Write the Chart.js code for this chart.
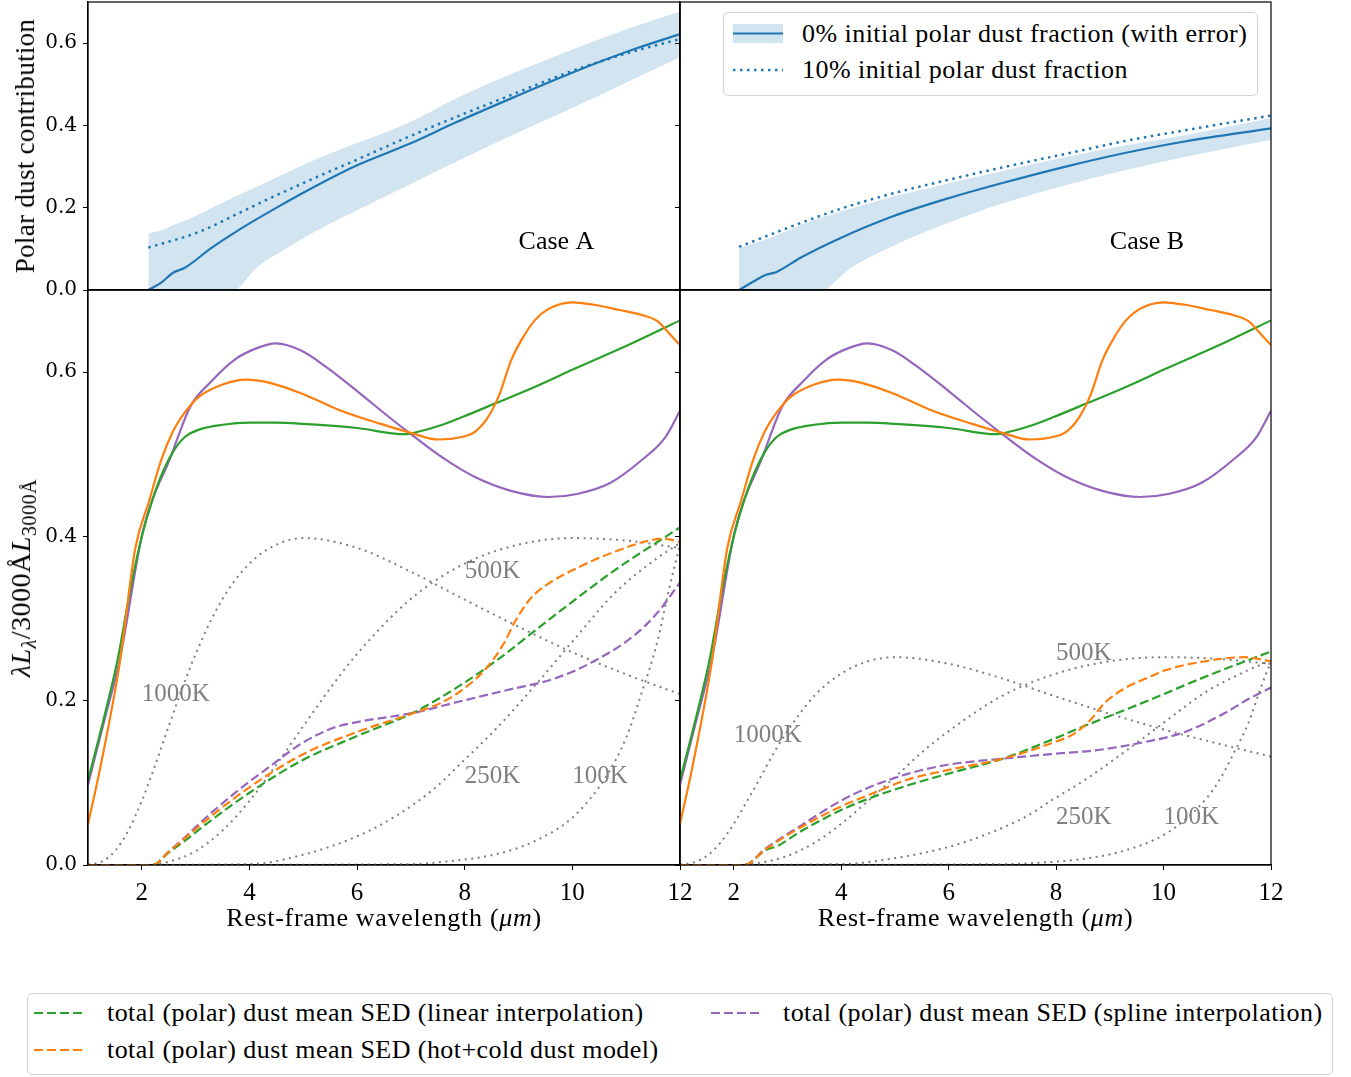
<!DOCTYPE html>
<html>
<head>
<meta charset="utf-8">
<title>Polar dust contribution and mean SEDs</title>
<script src="https://cdn.jsdelivr.net/npm/chart.js"></script>
<style>
  body { margin: 0; background: #fff; }
  #fig { position: relative; width: 1351px; height: 1077px; background: #fff;
         font-family: "Liberation Serif", "DejaVu Serif", serif; color: #000; overflow: hidden; }
  #fig canvas { position: absolute; }
  .xtitle { position: absolute; font-size: 26px; line-height: 30px; letter-spacing: 0.7px; text-align: center; white-space: nowrap; }
  .ytitle { position: absolute; line-height: 32px; white-space: nowrap;
            transform: translate(-50%, -50%) rotate(-90deg); }
  .ytitle sub { font-size: 0.72em; vertical-align: -0.3em; }
  .legend { position: absolute; background: #fff; border: 1px solid #d3d3d3; border-radius: 5px; box-sizing: border-box; }
  .leg-text { position: absolute; font-size: 26px; line-height: 28px; letter-spacing: 0.45px; white-space: nowrap; }
  .leg-sample { position: absolute; }
</style>
</head>
<body>
<div id="fig">
  <canvas id="topA" width="690" height="304" style="left:0px;top:0px"></canvas>
  <canvas id="topB" width="690" height="304" style="left:600px;top:0px"></canvas>
  <canvas id="sedA" width="694" height="660" style="left:0px;top:280px"></canvas>
  <canvas id="sedB" width="685" height="660" style="left:600px;top:280px"></canvas>

  <div class="ytitle" style="left:25px;top:146px;font-size:27px;letter-spacing:0.3px">Polar dust contribution</div>
  <div class="xtitle" style="left:88px;width:592px;top:903px">Rest-frame wavelength (<i>μm</i>)</div>
  <div class="xtitle" style="left:680px;width:591px;top:903px">Rest-frame wavelength (<i>μm</i>)</div>
  <div class="ytitle" style="left:25px;top:578px;font-size:28px;letter-spacing:0.5px"><i>λL</i><sub><i>λ</i></sub>/3000Å<i>L</i><sub>3000Å</sub></div>

  <!-- legend of the top row -->
  <div class="legend" style="left:723px;top:12px;width:535px;height:84px"></div>
  <svg class="leg-sample" style="left:733px;top:24px" width="50" height="19">
    <rect x="0" y="0" width="50" height="19" fill="rgb(210,228,240)"></rect>
    <line x1="0" y1="9.5" x2="50" y2="9.5" stroke="#1f77b4" stroke-width="2.2"></line>
  </svg>
  <div class="leg-text" style="left:802px;top:20px">0% initial polar dust fraction (with error)</div>
  <svg class="leg-sample" style="left:733px;top:65px" width="50" height="10">
    <line x1="0" y1="5" x2="50" y2="5" stroke="#1f77b4" stroke-width="2.5" stroke-dasharray="2.5,4.5"></line>
  </svg>
  <div class="leg-text" style="left:802px;top:56px">10% initial polar dust fraction</div>

  <!-- legend of the bottom row -->
  <div class="legend" style="left:27px;top:993px;width:1306px;height:82px"></div>
  <svg class="leg-sample" style="left:34px;top:1008px" width="48" height="10">
    <line x1="0" y1="5" x2="48" y2="5" stroke="#2ca02c" stroke-width="2.2" stroke-dasharray="9,4"></line>
  </svg>
  <div class="leg-text" style="left:107px;top:999px">total (polar) dust mean SED (linear interpolation)</div>
  <svg class="leg-sample" style="left:34px;top:1045px" width="48" height="10">
    <line x1="0" y1="5" x2="48" y2="5" stroke="#ff7f0e" stroke-width="2.2" stroke-dasharray="9,4"></line>
  </svg>
  <div class="leg-text" style="left:107px;top:1036px">total (polar) dust mean SED (hot+cold dust model)</div>
  <svg class="leg-sample" style="left:711px;top:1008px" width="48" height="10">
    <line x1="0" y1="5" x2="48" y2="5" stroke="#9467bd" stroke-width="2.2" stroke-dasharray="9,4"></line>
  </svg>
  <div class="leg-text" style="left:783px;top:999px">total (polar) dust mean SED (spline interpolation)</div>
</div>

<script>
// tick values
const xTicks = [2, 4, 6, 8, 10, 12];
const yTicks = [0, 0.2, 0.4, 0.6];

// ---- top row: polar dust contribution ----
// case A
const topAx = [2.12, 2.36, 2.58, 2.8, 3.28, 3.79, 4.53, 5.26, 6.0, 6.95, 7.83, 8.94, 10.03, 11.14, 12];
const topA0 = [0.0, 0.018, 0.042, 0.054, 0.101, 0.145, 0.202, 0.2545, 0.303, 0.354, 0.407, 0.470, 0.530, 0.585, 0.622];
const topA10x = [2.12, 3.06, 3.79, 4.53, 5.26, 6.0, 6.95, 7.83, 8.94, 10.03, 11.14, 12];
const topA10 = [0.103, 0.141, 0.186, 0.232, 0.275, 0.317, 0.372, 0.420, 0.478, 0.534, 0.580, 0.610];
const bandAx = [2.12, 2.36, 2.62, 2.84, 3.28, 3.79, 4.16, 4.53, 5.26, 6.0, 6.95, 7.83, 8.94, 10.03, 11.14, 12];
const bandAhi = [0.137, 0.145, 0.160, 0.170, 0.198, 0.230, 0.252, 0.275, 0.319, 0.357, 0.406, 0.465, 0.529, 0.586, 0.640, 0.677];
const bandAlo = [-0.2, -0.16, -0.12, -0.09, -0.045, 0.004, 0.057, 0.089, 0.145, 0.194, 0.2545, 0.311, 0.380, 0.444, 0.513, 0.566];
// case B
const topBx = [2.1, 2.36, 2.58, 2.8, 3.25, 3.98, 4.94, 5.97, 7.0, 8.18, 9.28, 10.39, 12];
const topB0 = [0.0, 0.020, 0.036, 0.044, 0.079, 0.126, 0.178, 0.222, 0.260, 0.300, 0.333, 0.361, 0.393];
const topB10x = [2.1, 3.25, 3.98, 4.94, 5.97, 7.0, 8.18, 9.28, 10.39, 12];
const topB10 = [0.105, 0.163, 0.197, 0.234, 0.267, 0.298, 0.331, 0.362, 0.388, 0.424];
const bandBx = [2.1, 2.8, 3.25, 3.72, 4.13, 4.94, 5.97, 7.0, 8.18, 9.28, 10.39, 12];
const bandBhi = [0.102, 0.133, 0.158, 0.180, 0.196, 0.226, 0.258, 0.289, 0.323, 0.351, 0.376, 0.418];
const bandBlo = [-0.17, -0.09, -0.045, 0.0, 0.0485, 0.105, 0.162, 0.210, 0.2545, 0.291, 0.323, 0.365];

// ---- bottom row: total SEDs (same in both cases) ----
const linX = [1.0, 1.3, 1.55, 1.8, 2.0, 2.2, 2.4, 2.6, 2.8, 3.06, 3.5, 4.0, 4.5, 5.0, 6.0, 6.88, 7.17, 7.54, 7.98, 8.57, 9.3, 10.04, 11.14, 12];
const linY = [0.103, 0.18, 0.25, 0.34, 0.40, 0.445, 0.48, 0.505, 0.521, 0.530, 0.536, 0.5385, 0.5385, 0.537, 0.532, 0.5245, 0.528, 0.535, 0.546, 0.562, 0.582, 0.604, 0.636, 0.663];
const splX = [1.0, 1.3, 1.59, 2.03, 2.54, 2.9, 3.28, 3.72, 4.09, 4.49, 4.97, 5.41, 6.0, 6.58, 7.03, 7.61, 8.2, 8.86, 9.56, 10.11, 10.7, 11.29, 11.73, 12];
const splY = [0.098, 0.175, 0.25, 0.409, 0.4975, 0.558, 0.588, 0.615, 0.628, 0.635, 0.626, 0.607, 0.577, 0.546, 0.523, 0.495, 0.472, 0.4555, 0.448, 0.452, 0.465, 0.493, 0.521, 0.553];
const hcX = [1.0, 1.22, 1.59, 1.88, 2.14, 2.36, 2.58, 2.8, 3.06, 3.5, 3.94, 4.38, 4.97, 5.7, 6.44, 7.03, 7.5, 7.94, 8.2, 8.42, 8.64, 8.86, 9.08, 9.3, 9.56, 10.0, 10.4, 10.85, 11.32, 11.58, 11.8, 12];
const hcY = [0.050, 0.116, 0.246, 0.386, 0.444, 0.493, 0.528, 0.551, 0.570, 0.585, 0.591, 0.587, 0.574, 0.553, 0.537, 0.5255, 0.518, 0.521, 0.528, 0.544, 0.572, 0.614, 0.642, 0.663, 0.677, 0.685, 0.682, 0.676, 0.669, 0.662, 0.647, 0.633];

// polar dust SEDs, case A
const polLinAx = [1, 2.2, 2.5, 2.77, 3.3, 4.0, 4.97, 6.0, 7.03, 7.9, 8.57, 9.67, 10.77, 12];
const polLinA = [0, 0, 0.015, 0.028, 0.055, 0.088, 0.127, 0.157, 0.185, 0.218, 0.248, 0.304, 0.358, 0.411];
const polHcAx = [1, 2.2, 2.5, 2.77, 3.3, 4.0, 4.97, 6.0, 7.03, 7.61, 8.05, 8.42, 8.72, 8.94, 9.23, 9.52, 10.04, 10.77, 11.5, 11.73, 12];
const polHcA = [0, 0, 0.016, 0.031, 0.060, 0.0946, 0.134, 0.162, 0.1845, 0.199, 0.218, 0.241, 0.269, 0.297, 0.325, 0.341, 0.360, 0.381, 0.396, 0.397, 0.393];
const polSplAx = [1, 2.2, 2.5, 2.77, 3.3, 4.0, 4.38, 4.97, 5.56, 6.0, 7.03, 7.9, 8.79, 9.67, 10.4, 11.14, 11.58, 12];
const polSplA = [0, 0, 0.016, 0.032, 0.064, 0.1016, 0.120, 0.148, 0.167, 0.174, 0.185, 0.199, 0.213, 0.227, 0.248, 0.279, 0.307, 0.344];
// polar dust SEDs, case B
const polLinBx = [1, 2.2, 2.59, 2.81, 3.25, 3.99, 4.5, 5.24, 5.98, 7.01, 7.9, 8.56, 9.67, 10.77, 12];
const polLinB = [0, 0, 0.018, 0.023, 0.041, 0.0666, 0.0806, 0.097, 0.111, 0.1295, 0.152, 0.170, 0.199, 0.229, 0.260];
const polHcBx = [1, 2.2, 2.59, 3.25, 3.99, 4.5, 5.24, 5.98, 7.01, 7.9, 8.34, 8.63, 8.93, 9.3, 9.67, 10.03, 10.77, 11.51, 12];
const polHcB = [0, 0, 0.019, 0.046, 0.071, 0.085, 0.104, 0.1155, 0.1295, 0.148, 0.160, 0.176, 0.199, 0.216, 0.227, 0.237, 0.248, 0.253, 0.248];
const polSplBx = [1, 2.2, 2.59, 3.25, 3.99, 4.5, 5.24, 5.98, 7.01, 7.9, 8.78, 9.67, 10.4, 11.14, 11.58, 12];
const polSplB = [0, 0, 0.020, 0.048, 0.078, 0.094, 0.111, 0.122, 0.1295, 0.135, 0.140, 0.150, 0.162, 0.185, 0.202, 0.216];

// blackbody templates, case A
const bb1000x = [1, 1.25, 1.5, 1.75, 2, 2.25, 2.5, 2.75, 3, 3.5, 4, 4.5, 5, 6, 7, 8, 9, 10, 11, 12];
const bb1000A = [0.001, 0.004, 0.017, 0.042, 0.078, 0.122, 0.169, 0.215, 0.257, 0.324, 0.367, 0.390, 0.398, 0.386, 0.357, 0.323, 0.290, 0.259, 0.232, 0.208];
const bb500x = [1, 2, 2.5, 3, 3.5, 4, 4.5, 5, 5.5, 6, 7, 8, 9, 10, 11, 12];
const bb500A = [0, 0, 0.004, 0.017, 0.042, 0.078, 0.122, 0.169, 0.215, 0.257, 0.324, 0.367, 0.390, 0.398, 0.395, 0.386];
const bb250x = [1, 4.0, 4.97, 6.0, 6.73, 7.47, 7.9, 8.57, 9.3, 10.04, 10.77, 11.5, 12];
const bb250A = [0, 0.001, 0.012, 0.035, 0.060, 0.095, 0.122, 0.165, 0.218, 0.275, 0.330, 0.370, 0.392];
const bb100x = [1, 7.0, 7.47, 8.57, 9.3, 10.04, 10.63, 11.0, 11.29, 11.58, 11.8, 12];
const bb100A = [0, 0.001, 0.003, 0.013, 0.029, 0.060, 0.108, 0.155, 0.210, 0.272, 0.337, 0.390];
// blackbody templates, case B
const bb1000B = [0.001, 0.003, 0.011, 0.027, 0.050, 0.078, 0.107, 0.137, 0.163, 0.206, 0.233, 0.248, 0.253, 0.245, 0.227, 0.205, 0.184, 0.165, 0.148, 0.132];
const bb500B = [0, 0, 0.003, 0.011, 0.027, 0.050, 0.078, 0.107, 0.137, 0.163, 0.206, 0.233, 0.248, 0.253, 0.251, 0.245];
const bb250B = [0, 0.001, 0.008, 0.022, 0.038, 0.060, 0.078, 0.105, 0.139, 0.175, 0.210, 0.235, 0.249];
const bb100B = [0, 0.001, 0.002, 0.008, 0.018, 0.038, 0.069, 0.099, 0.134, 0.173, 0.214, 0.248];

// text labels inside the panels (x, y in data units, baseline left)
const bbNames = ['1000K', '500K', '250K', '100K'];
const bbLabelXA = [2, 8, 8, 10];
const bbLabelYA = [0.2, 0.35, 0.1, 0.1];
const bbLabelXB = [2, 8, 8, 10];
const bbLabelYB = [0.15, 0.25, 0.05, 0.05];

const BLUE = '#1f77b4', ORANGE = '#ff7f0e', GREEN = '#2ca02c', PURPLE = '#9467bd', GREY = '#7f7f7f';
const DASH = [9, 4], DOT = [2, 4.5];

function pts(xs, ys) {
    return xs.map((x, i) => ({ x: x, y: ys[i] }));
}

function line(xs, ys, color, dash, width) {
    return {
        data: pts(xs, ys),
        borderColor: color,
        borderWidth: width || 2.2,
        borderDash: dash || [],
        pointRadius: 0,
        fill: false,
        cubicInterpolationMode: 'monotone'
    };
}

// upper edge fills down to the next dataset (lower edge)
function band(xs, lo, hi) {
    return [
        { data: pts(xs, hi), borderWidth: 0, borderColor: 'rgba(0,0,0,0)', backgroundColor: 'rgba(31,119,180,0.2)',
          pointRadius: 0, fill: '+1', cubicInterpolationMode: 'monotone' },
        { data: pts(xs, lo), borderWidth: 0, borderColor: 'rgba(0,0,0,0)', pointRadius: 0, fill: false,
          cubicInterpolationMode: 'monotone' }
    ];
}

// draws the full box around the plot area
const framePlugin = {
    id: 'frame',
    afterDatasetsDraw(chart) {
        const a = chart.chartArea, ctx = chart.ctx;
        ctx.save();
        ctx.strokeStyle = '#000';
        ctx.lineWidth = 1.2;
        ctx.strokeRect(a.left, a.top, a.right - a.left, a.bottom - a.top);
        ctx.restore();
    }
};

// text annotations placed through the scales
const textPlugin = {
    id: 'panelText',
    afterDatasetsDraw(chart, args, opts) {
        const ctx = chart.ctx, xs = chart.scales.x, ys = chart.scales.y;
        ctx.save();
        (opts.items || []).forEach(it => {
            ctx.font = it.font;
            ctx.fillStyle = it.color;
            ctx.textAlign = 'left';
            ctx.textBaseline = 'alphabetic';
            ctx.fillText(it.text, xs.getPixelForValue(it.x), ys.getPixelForValue(it.y));
        });
        ctx.restore();
    }
};

// axis boxes get a fixed size and no extra label padding,
// so the plot areas land exactly where the layout wants them
function noPad(s) {
    s.paddingLeft = 0; s.paddingRight = 0; s.paddingTop = 0; s.paddingBottom = 0;
}

function scales(o) {
    return {
        x: {
            type: 'linear', min: 1, max: 12,
            afterBuildTicks: s => { s.ticks = xTicks.map(v => ({ value: v })); },
            afterFit: s => { s.height = o.xh; noPad(s); },
            ticks: { display: o.xlabels, font: { family: 'Liberation Serif', size: 25 }, color: '#000',
                     padding: 8, maxRotation: 0, autoSkip: false },
            grid: { drawOnChartArea: false, drawTicks: o.xlabels, tickLength: 5, color: '#000', lineWidth: 1 },
            border: { display: true, color: '#000', width: 1.2 }
        },
        y: {
            type: 'linear', min: 0, max: 0.7,
            afterBuildTicks: s => { s.ticks = yTicks.map(v => ({ value: v })); },
            afterFit: s => { s.width = o.yw; noPad(s); },
            ticks: { display: o.ylabels, font: { family: 'DejaVu Serif', size: 20 }, color: '#000', padding: 6,
                     callback: v => v.toFixed(1) },
            grid: { drawOnChartArea: false, drawTicks: true, tickLength: 5, color: '#000', lineWidth: 1 },
            border: { display: true, color: '#000', width: 1.2 }
        }
    };
}

function makeChart(id, datasets, o, items) {
    return new Chart(document.getElementById(id), {
        type: 'line',
        data: { datasets: datasets },
        options: {
            responsive: false,
            animation: false,
            devicePixelRatio: 1,
            layout: { padding: o.pad },
            scales: scales(o),
            plugins: { legend: { display: false }, tooltip: { enabled: false }, panelText: { items: items } }
        },
        plugins: [framePlugin, textPlugin]
    });
}

function caseText(t) {
    return [{ text: t, x: 9, y: 0.1, font: '26px "Liberation Serif"', color: '#000' }];
}

function bbText(xs, ys) {
    return bbNames.map((n, i) => ({ text: n, x: xs[i], y: ys[i], font: '25px "Liberation Serif"', color: '#808080' }));
}

function sedSets(pl, plx, ph, phx, ps, psx, b1, b5, b2, b0) {
    return [
        line(hcX, hcY, ORANGE),
        line(linX, linY, GREEN),
        line(splX, splY, PURPLE),
        line(phx, ph, ORANGE, DASH),
        line(plx, pl, GREEN, DASH),
        line(psx, ps, PURPLE, DASH),
        line(bb1000x, b1, GREY, DOT, 2),
        line(bb500x, b5, GREY, DOT, 2),
        line(bb250x, b2, GREY, DOT, 2),
        line(bb100x, b0, GREY, DOT, 2)
    ];
}

makeChart('topA',
    [line(topAx, topA0, BLUE), line(topA10x, topA10, BLUE, [2.5, 4.5], 2.5)].concat(band(bandAx, bandAlo, bandAhi)),
    { xh: 14, yw: 88, xlabels: false, ylabels: true,
      pad: { left: 0, top: 2, right: 10, bottom: 0 } },
    caseText('Case A'));

makeChart('topB',
    [line(topBx, topB0, BLUE), line(topB10x, topB10, BLUE, [2.5, 4.5], 2.5)].concat(band(bandBx, bandBlo, bandBhi)),
    { xh: 14, yw: 80, xlabels: false, ylabels: false,
      pad: { left: 0, top: 2, right: 19, bottom: 0 } },
    caseText('Case B'));

makeChart('sedA',
    sedSets(polLinA, polLinAx, polHcA, polHcAx, polSplA, polSplAx, bb1000A, bb500A, bb250A, bb100A),
    { xh: 75, yw: 88, xlabels: true, ylabels: true,
      pad: { left: 0, top: 10, right: 14, bottom: 0 } },
    bbText(bbLabelXA, bbLabelYA));

makeChart('sedB',
    sedSets(polLinB, polLinBx, polHcB, polHcBx, polSplB, polSplBx, bb1000B, bb500B, bb250B, bb100B),
    { xh: 75, yw: 80, xlabels: true, ylabels: false,
      pad: { left: 0, top: 10, right: 14, bottom: 0 } },
    bbText(bbLabelXB, bbLabelYB));
</script>
</body>
</html>
